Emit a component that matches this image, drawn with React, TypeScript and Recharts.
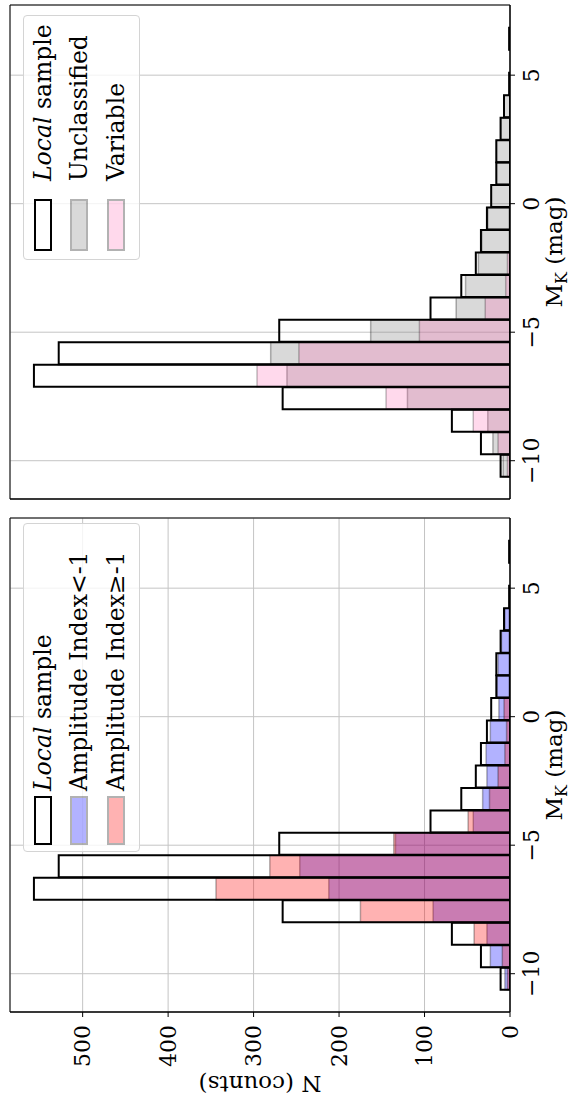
import { BarChart, Bar, XAxis, YAxis, CartesianGrid, ReferenceArea } from 'recharts'

// M_K histogram, 20 equal-width bins (centres in mag)
const binCenters = [
  -10.183, -9.309, -8.435, -7.561, -6.687, -5.813, -4.939, -4.065, -3.191, -2.317,
  -1.443, -0.569, 0.305, 1.179, 2.053, 2.927, 3.801, 4.675, 5.549, 6.423,
]
const localSample = [11, 34, 68, 266, 557, 528, 270, 93, 57, 40, 34, 27, 22, 16, 16, 11, 7, 1, 0, 1]
const ampIndexLow = [6, 23, 27, 90, 212, 246, 134, 43, 32, 27, 28, 23, 13, 15, 14, 10, 6, 1, 0, 1]
const ampIndexHigh = [3, 9, 42, 175, 344, 281, 136, 49, 24, 14, 6, 4, 7, 1, 1, 1, 1, 0, 0, 0]
const unclassified = [8, 20, 26, 120, 261, 280, 163, 63, 52, 37, 33, 26, 22, 16, 16, 11, 7, 1, 0, 1]
const variable = [3, 14, 43, 145, 296, 247, 106, 29, 5, 3, 1, 1, 0, 0, 0, 0, 0, 0, 0, 0]

const magTicks = [-10, -5, 0, 5]
const countTicks = [0, 100, 200, 300, 400, 500]
const magRange: [number, number] = [-11.49, 7.73]
const countRange: [number, number] = [0, 585]

const FONT = 'DejaVu Serif'
const tickStyle = { fill: '#000', fontSize: 22, fontFamily: FONT }
const minus = (v: number) => String(v).replace('-', '\u2212')

type Layer = { key: string; label: string; fill: string; opacity: number; values: number[] }

const ampLayers: Layer[] = [
  { key: 'low', label: 'Amplitude Index<-1', fill: 'blue', opacity: 0.3, values: ampIndexLow },
  { key: 'high', label: 'Amplitude Index\u2265-1', fill: 'red', opacity: 0.3, values: ampIndexHigh },
]
const classLayers: Layer[] = [
  { key: 'uncl', label: 'Unclassified', fill: 'grey', opacity: 0.3, values: unclassified },
  { key: 'var', label: 'Variable', fill: 'hotpink', opacity: 0.25, values: variable },
]

function buildRows(layers: Layer[]) {
  return binCenters.map((m, i) => {
    const row: Record<string, number> = { m, local: localSample[i] }
    layers.forEach((l) => (row[l.key] = l.values[i]))
    return row
  })
}

const magLabel = (props: any) => {
  const vb = props.viewBox || { x: 92, y: 510, width: 494 }
  const cx = vb.x + vb.width / 2
  return (
    <text x={cx} y={vb.y + 52} textAnchor="middle" fontFamily={FONT} fontSize={23} fill="#000">
      M<tspan dy={5} fontSize={16}>K</tspan>
      <tspan dy={-5}> (mag)</tspan>
    </text>
  )
}

const countLabel = (props: any) => {
  const vb = props.viewBox || { x: 0, y: 10, height: 500 }
  const x = vb.x + 20
  const y = vb.y + vb.height / 2
  return (
    <text x={x} y={y} transform={`rotate(-90, ${x}, ${y})`} textAnchor="middle" dominantBaseline="central"
      fontFamily={FONT} fontSize={23} fill="#000">
      N (counts)
    </text>
  )
}

function Panel({ layers, width, showCounts }: { layers: Layer[]; width: number; showCounts: boolean }) {
  const rows = buildRows(layers)
  return (
    <BarChart width={width} height={574} data={rows} barCategoryGap={0} barGap={0}
      margin={{ top: 10, right: showCounts ? 14 : 5, bottom: 0, left: 0 }}>
      <CartesianGrid xAxisId="a-main" stroke="#c4c4c4" strokeWidth={1} />
      <XAxis xAxisId="a-main" dataKey="m" type="number" domain={magRange} ticks={magTicks} allowDataOverflow
        tickFormatter={minus} tickSize={5} tickMargin={8} height={64} stroke="#000" tick={tickStyle}
        label={{ content: magLabel }} />
      {/* one hidden axis per overlaid layer so the bars share the same slot */}
      {layers.map((l) => (
        <XAxis key={l.key} xAxisId={'z-' + l.key} dataKey="m" type="number" domain={magRange}
          allowDataOverflow hide height={0} />
      ))}
      <YAxis domain={countRange} ticks={countTicks} allowDataOverflow width={showCounts ? 92 : 5}
        tickSize={5} tickMargin={8} stroke="#000" tick={showCounts ? tickStyle : false}
        label={showCounts ? { content: countLabel } : undefined} />
      {layers.map((l) => (
        <Bar key={l.key} xAxisId={'z-' + l.key} dataKey={l.key} fill={l.fill} fillOpacity={l.opacity}
          stroke="#000" strokeOpacity={l.opacity} strokeWidth={1.5} isAnimationActive={false} />
      ))}
      <Bar xAxisId="a-main" dataKey="local" fill="none" stroke="#000" strokeWidth={2} isAnimationActive={false} />
      <ReferenceArea xAxisId="a-main" x1={magRange[0]} x2={magRange[1]} y1={countRange[0]} y2={countRange[1]}
        fill="none" stroke="#000" strokeWidth={1} />
    </BarChart>
  )
}

function LegendBox({ layers, left, width, swatchLeft, swatchWidth, textLeft }: {
  layers: Layer[]; left: number; width: number; swatchLeft: number; swatchWidth: number; textLeft: number
}) {
  const rowCenters = [19, 55, 92]
  const entries = [
    { label: null as string | null, fill: '#fff', opacity: 1, border: '2px solid #000' },
    ...layers.map((l) => ({ label: l.label, fill: l.fill, opacity: l.opacity, border: '2px solid rgba(0,0,0,0.3)' })),
  ]
  return (
    <div style={{
      position: 'absolute', left, top: 23, width, height: 117, boxSizing: 'border-box',
      border: '1px solid #d4d4d4', borderRadius: 4, background: 'rgba(255,255,255,0.8)',
      fontFamily: FONT, fontSize: 23.5, color: '#000',
    }}>
      {entries.map((e, i) => (
        <div key={i}>
          <div style={{
            position: 'absolute', left: swatchLeft, top: rowCenters[i] - 9, width: swatchWidth, height: 18,
            boxSizing: 'border-box', border: e.border, background: e.fill === '#fff' ? '#fff' : 'transparent',
          }}>
            {e.fill !== '#fff' && (
              <div style={{ width: '100%', height: '100%', background: e.fill, opacity: e.opacity }} />
            )}
          </div>
          <div style={{
            position: 'absolute', left: textLeft, top: rowCenters[i] - 15, height: 30, lineHeight: '30px',
            whiteSpace: 'nowrap',
          }}>
            {e.label === null ? (<><i>Local</i> sample</>) : e.label}
          </div>
        </div>
      ))}
    </div>
  )
}

export default function App() {
  return (
    <div style={{ position: 'absolute', left: 0, top: 0, width: 574, height: 1104, overflow: 'hidden', background: '#fff' }}>
      <div style={{
        position: 'absolute', left: 0, top: 0, width: 1104, height: 574, background: '#fff',
        transformOrigin: '0 0', transform: 'translate(0px, 1104px) rotate(-90deg)',
      }}>
        <div style={{ position: 'absolute', left: 0, top: 0 }}>
          <Panel layers={ampLayers} width={600} showCounts />
        </div>
        <div style={{ position: 'absolute', left: 600, top: 0 }}>
          <Panel layers={classLayers} width={504} showCounts={false} />
        </div>
        <LegendBox layers={ampLayers} left={252} width={329} swatchLeft={6} swatchWidth={49} textLeft={60} />
        <LegendBox layers={classLayers} left={844} width={245} swatchLeft={8} swatchWidth={52} textLeft={78} />
      </div>
    </div>
  )
}
